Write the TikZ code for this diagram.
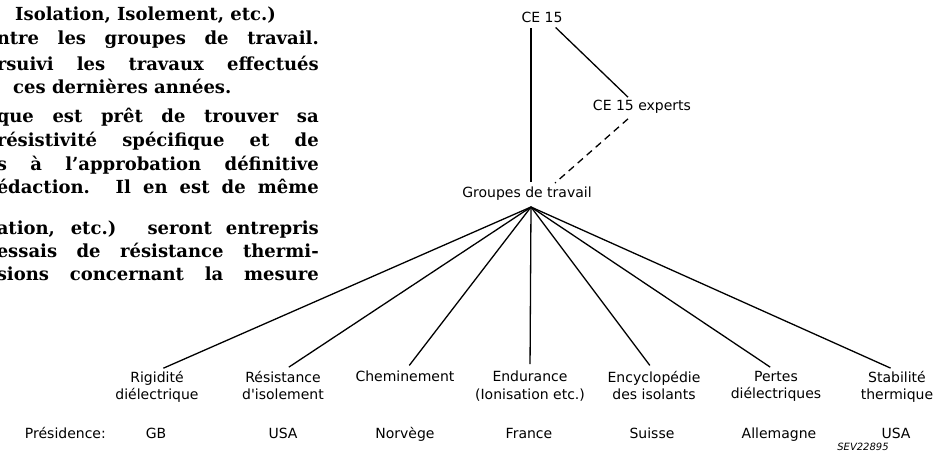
\documentclass[tikz,border=0pt]{standalone}
\usepackage{fontspec}
\newfontfamily\labelfont{DejaVu Sans}
\newfontfamily\bodyfont{DejaVu Serif}
\usetikzlibrary{calc}
\tikzstyle{lbl} = [font=\labelfont\fontsize{14}{17.5}\selectfont, align=center, inner sep=0pt]
\tikzstyle{body} = [font=\bodyfont\bfseries\fontsize{18}{24}\selectfont, anchor=base east, inner sep=0pt]
\tikzstyle{link} = [line width=1.3pt]
\newcommand{\jline}[1]{\makebox[322pt][s]{#1}}

\begin{document}
\begin{tikzpicture}[x=1pt,y=-1pt]
    \useasboundingbox (0,0) rectangle (946,455);
    % article column, cut at the left
    \node[body, anchor=base west] (t1) at (15,20) {Isolation, Isolement, etc.)};
    \node[body] (t2) at (319,45) {\jline{ntre les groupes de travail.}};
    \node[body] (t3) at (319,70) {\jline{rsuivi les travaux effectués}};
    \node[body, anchor=base west] (t4) at (13,93) {ces dernières années.};
    \node[body] (t5) at (319,122) {\jline{que est prêt de trouver sa}};
    \node[body] (t6) at (319,146) {\jline{résistivité spécifique et de}};
    \node[body] (t7) at (319,170) {\jline{s à l’approbation définitive}};
    \node[body] (t8) at (319,193) {\jline{édaction. Il en est de même}};
    \node[body] (t9) at (319,234) {\jline{ation, etc.) seront entrepris}};
    \node[body] (t10) at (319,257) {\jline{essais de résistance thermi-}};
    \node[body] (t11) at (319,280) {\jline{sions concernant la mesure}};

    % committee
    \node[lbl] (ce15) at (542,17) {CE 15};
    \node[lbl] (experts) at (642,107) {CE 15 experts};
    \node[lbl] (groupes) at (527,194) {Groupes de travail};
    \coordinate (hub) at (531,207);
    \draw[link] (ce15.south -| hub) ++(0,6) -- ($(groupes.north -| hub)+(0,-5)$);
    \draw[link] ($(ce15.south east)+(-7,5)$) -- ($(experts.north)+(-14,-3)$);
    \draw[link, dash pattern=on 7pt off 5pt] ($(experts.south)+(-14,5)$) -- ($(groupes.north)+(28,-4)$);

    % working groups
    \node[lbl, anchor=north] (rigid) at (157,371) {Rigidité\\diélectrique};
    \node[lbl, anchor=north] (resist) at (283,371) {Résistance\\d'isolement};
    \node[lbl, anchor=north] (chemin) at (405,371) {Cheminement};
    \node[lbl, anchor=north] (endur) at (530,371) {Endurance\\(Ionisation etc.)};
    \node[lbl, anchor=north] (encyc) at (654,371) {Encyclopédie\\des isolants};
    \node[lbl, anchor=north] (pertes) at (776,371) {Pertes\\diélectriques};
    \node[lbl, anchor=north] (stab) at (897,371) {Stabilité\\thermique};
    \foreach \g in {rigid,resist,chemin,endur,encyc,pertes,stab}
        \draw[link, shorten >=7pt] (hub) -- (\g.north);

    % presidencies
    \node[lbl, anchor=base east] (pres) at (106,438) {Présidence:};
    \node[lbl, anchor=base] (p1) at (156,438) {GB};
    \node[lbl, anchor=base] (p2) at (283,438) {USA};
    \node[lbl, anchor=base] (p3) at (405,438) {Norvège};
    \node[lbl, anchor=base] (p4) at (529,438) {France};
    \node[lbl, anchor=base] (p5) at (652,438) {Suisse};
    \node[lbl, anchor=base] (p6) at (779,438) {Allemagne};
    \node[lbl, anchor=base] (p7) at (896,438) {USA};
    \node[inner sep=0pt, font=\labelfont\itshape\fontsize{10}{12}\selectfont] (sev) at (863,447) {SEV22895};
\end{tikzpicture}
\end{document}
